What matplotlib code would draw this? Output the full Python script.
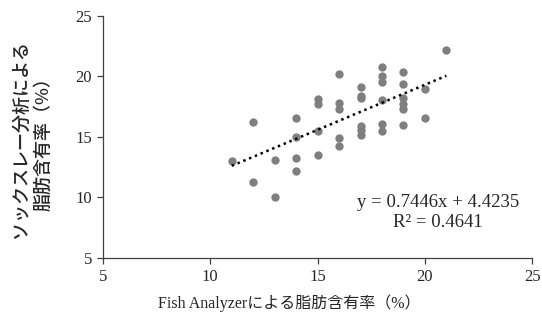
import matplotlib
matplotlib.use("Agg")
import matplotlib.pyplot as plt
import numpy as np

x_vals = [11, 12, 12, 13, 13,
          14, 14, 14, 14,
          15, 15, 15, 15,
          16, 16, 16, 16, 16,
          17, 17, 17, 17, 17, 17,
          18, 18, 18, 18, 18, 18,
          19, 19, 19, 19, 19, 19,
          20, 20, 21]
y_vals = [13.0, 16.2, 11.3, 13.1, 10.0,
          16.55, 15.0, 13.3, 12.15,
          18.15, 17.75, 15.5, 13.5,
          20.2, 17.8, 17.3, 14.9, 14.25,
          19.1, 18.35, 18.2, 15.9, 15.55, 15.2,
          20.8, 20.0, 19.55, 18.05, 16.1, 15.5,
          20.4, 19.4, 18.25, 17.75, 17.35, 15.95,
          19.0, 16.6, 22.15]
slope = 0.7446
intercept = 4.4235
r2 = 0.4641
x_ticks = [5, 10, 15, 20, 25]
y_ticks = [5, 10, 15, 20, 25]

serif = ['Liberation Serif', 'Noto Sans CJK JP']
cjk = ['Noto Sans CJK JP', 'DejaVu Sans']

fig = plt.figure(figsize=(5.42, 3.2), dpi=100)
ax = fig.add_axes([0.19, 0.194, 0.792, 0.756])

ax.scatter(x_vals, y_vals, s=36, color='#7f7f7f', zorder=3, linewidths=0)
xf = np.array([min(x_vals), max(x_vals)])
ax.plot(xf, slope * xf + intercept, color='black', linestyle=(0, (1, 1.5)), linewidth=1.8, zorder=4)

ax.set_xlim(5, 25)
ax.set_ylim(5, 25)
ax.set_xticks(x_ticks)
ax.set_yticks(y_ticks)
for sp in ['top', 'right']:
    ax.spines[sp].set_visible(False)
for sp in ['left', 'bottom']:
    ax.spines[sp].set_color('#404040')
    ax.spines[sp].set_linewidth(0.9)
ax.tick_params(direction='out', length=4, width=0.9, color='#404040', labelsize=12, pad=4)
for lab in ax.get_xticklabels() + ax.get_yticklabels():
    lab.set_family(serif)
    lab.set_color('#262626')

ax.set_xlabel('Fish Analyzerによる脂肪含有率（%）', family=serif, fontsize=11.5, color='#262626')
ax.xaxis.set_label_coords(0.435, -0.15)
ax.set_ylabel('ソックスレー分析による\n脂肪含有率（%）', family=cjk, fontsize=13, fontweight='medium',
              color='#262626', linespacing=1.3)
ax.yaxis.set_label_coords(-0.118, 0.49)

ax.text(20.62, 9.55, f'y = {slope}x + {intercept}', family=serif, fontsize=13.5, ha='center', va='center', color='#262626')
ax.text(20.62, 7.9, f'R² = {r2}', family=serif, fontsize=13.5, ha='center', va='center', color='#262626')

fig.savefig('out.png', dpi=100)
